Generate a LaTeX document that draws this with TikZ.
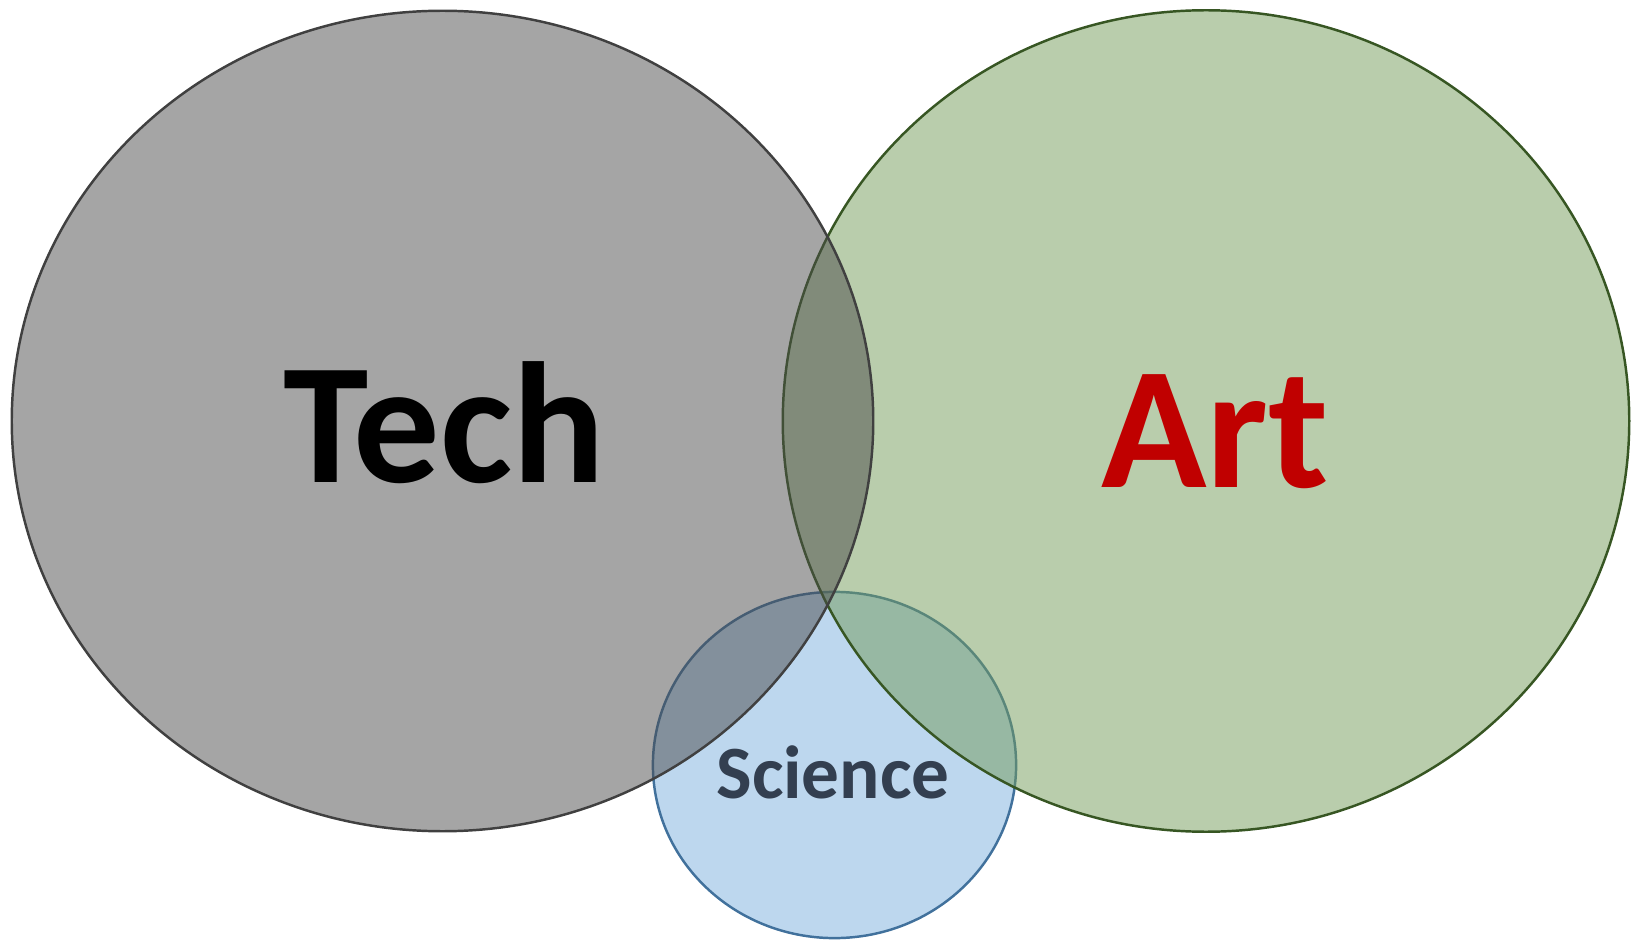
\documentclass[tikz,border=0pt]{standalone}
\usepackage{fontspec}
\setmainfont{Carlito}
\definecolor{techfill}{RGB}{75,75,75}
\definecolor{techline}{RGB}{64,64,64}
\definecolor{artfill}{RGB}{115,155,89}
\definecolor{artline}{RGB}{55,86,35}
\definecolor{scifill}{RGB}{189,215,238}
\definecolor{sciline}{RGB}{65,113,156}
\definecolor{artred}{RGB}{192,0,0}
\definecolor{scitext}{RGB}{51,63,80}
\begin{document}
\begin{tikzpicture}[x=0.01cm, y=0.01cm,
  set/.style={line width=0.7pt},
  label/.style={font=\bfseries, anchor=base, inner sep=0pt}]
\useasboundingbox (0,0) rectangle (1637,939);
% science at the bottom, then art, then tech
\draw[set, draw=sciline, fill=scifill] (834.5,174) ellipse [x radius=1.815cm, y radius=1.73cm];
\draw[set, draw=artline, fill=artfill, fill opacity=.5] (1206,518) ellipse [x radius=4.23cm, y radius=4.105cm];
\draw[set, draw=techline, fill=techfill, fill opacity=.5] (442.5,518) ellipse [x radius=4.305cm, y radius=4.1cm];
\node[label, font=\fontsize{49}{49}\selectfont\bfseries] (tech) at (444,456) {Tech};
\node[label, text=artred, font=\fontsize{49.5}{50}\selectfont\bfseries] (art) at (1215,452) {Art};
\node[label, text=scitext, font=\fontsize{21.4}{22}\selectfont\bfseries] (science) at (833,141) {Science};
\end{tikzpicture}
\end{document}
